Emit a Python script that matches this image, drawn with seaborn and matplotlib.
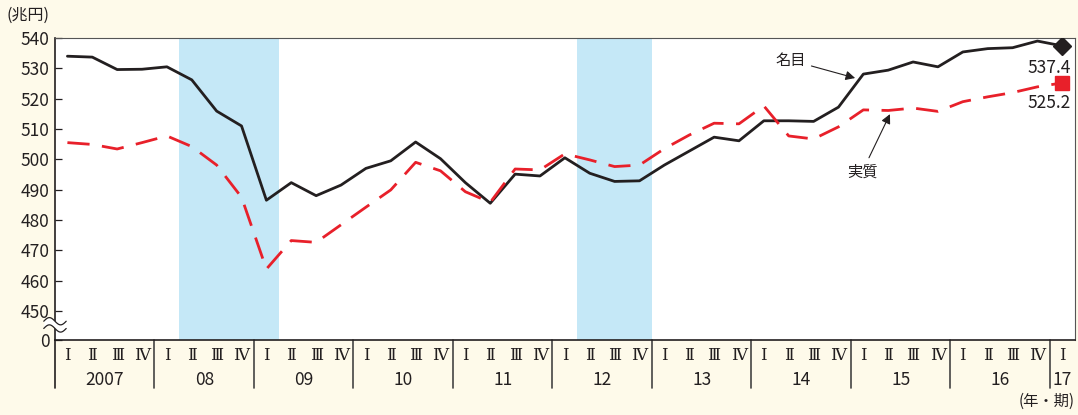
import numpy as np
import pandas as pd
import matplotlib.pyplot as plt
import seaborn as sns

sns.set_theme(style="white")
plt.rcParams["font.family"] = ["Noto Sans CJK JP", "DejaVu Sans"]

# ── データ ───────────────────────────────────────────────────────────────
years = ["2007", "08", "09", "10", "11", "12", "13", "14", "15", "16", "17"]
quarters = ["Ⅰ", "Ⅱ", "Ⅲ", "Ⅳ"]

nominal = [534.0, 533.7, 529.6, 529.7, 530.5, 526.2, 515.9, 511.0, 486.5, 492.3,
           488.0, 491.5, 497.0, 499.5, 505.7, 500.2, 492.3, 485.5, 495.1, 494.5,
           500.5, 495.4, 492.7, 492.9, 498.1, 502.7, 507.3, 506.1, 512.7, 512.7,
           512.5, 517.2, 528.1, 529.4, 532.1, 530.5, 535.4, 536.5, 536.8, 539.0,
           537.4]
real = [505.5, 504.9, 503.4, 505.5, 507.7, 504.2, 498.1, 487.5, 463.8, 473.2,
        472.6, 478.4, 484.2, 489.9, 499.0, 496.2, 489.3, 485.8, 496.8, 496.5,
        501.8, 499.8, 497.6, 498.1, 503.5, 508.0, 511.9, 511.7, 517.6, 507.7,
        506.7, 510.7, 516.3, 516.1, 516.9, 515.8, 519.0, 520.6, 522.0, 523.9,
        525.2]
recessions = [(4.5, 8.5), (20.5, 23.5)]
yticks = [450, 460, 470, 480, 490, 500, 510, 520, 530, 540]

n = len(nominal)
qlabels = [quarters[i % 4] for i in range(n)]
df = pd.DataFrame({"idx": np.arange(n), "名目": nominal, "実質": real})

# ── 描画 ─────────────────────────────────────────────────────────────────
bg = "#FEFAEA"
fig = plt.figure(figsize=(10.78, 4.15), dpi=100, facecolor=bg)
ax = fig.add_axes([0.051, 0.1807, 0.946, 0.7277])
ax.set_facecolor("white")

for a, b in recessions:
    ax.axvspan(a, b, color="#C5E8F7", lw=0, zorder=0)

sns.lineplot(data=df, x="idx", y="名目", ax=ax, color="#231F20", lw=2.0, zorder=3)
sns.lineplot(data=df, x="idx", y="実質", ax=ax, color="#E8202A", lw=2.0,
             dashes=False, zorder=3)
ax.lines[-1].set_dashes((8, 4.5))

ax.plot(n - 1, nominal[-1], marker="D", ms=9, color="#231F20", zorder=4)
ax.plot(n - 1, real[-1], marker="s", ms=10, color="#E8202A", zorder=4)

ymin = 440.4
ax.set_xlim(-0.5, n - 0.5)
ax.set_ylim(ymin, 540)
ax.set_xlabel("")
ax.set_ylabel("")

ax.set_yticks([ymin] + yticks)
ax.set_yticklabels(["0"] + [str(v) for v in yticks], fontsize=12.5, color="#231F20")
ax.tick_params(axis="y", direction="in", length=5, width=0.9, color="#231F20", pad=4, left=True)

ax.set_xticks(range(n))
ax.set_xticklabels(qlabels, fontsize=12, color="#231F20", family=["DejaVu Serif"])
ax.tick_params(axis="x", length=0, pad=5)

for s in ["left", "bottom"]:
    ax.spines[s].set_color("#231F20")
    ax.spines[s].set_linewidth(1.2)
for s in ["top", "right"]:
    ax.spines[s].set_color("#555555")
    ax.spines[s].set_linewidth(0.8)

# 年ラベルと区切り線
trans = ax.get_xaxis_transform()
for i, y in enumerate(years):
    start = i * 4 - 0.5
    end = min(start + 4, n - 0.5)
    ax.text((start + end) / 2, -0.133, y, transform=trans, ha="center", va="center",
            fontsize=12.5, color="#231F20")
    if i > 0:
        ax.plot([start, start], [0, -0.16], transform=trans, color="#444444",
                lw=1.2, clip_on=False)
ax.plot([-0.5, -0.5], [0, -0.16], transform=trans, color="#231F20", lw=1.2, clip_on=False)

# 軸の省略記号
yb = (445.4 - ymin) / (540 - ymin)
wx = np.linspace(-0.011, 0.011, 40)
wave = 0.012 * np.sin((wx + 0.011) / 0.022 * 2 * np.pi)
ax.fill_between(wx, yb - 0.012 + wave, yb + 0.012 + wave, transform=ax.transAxes,
                color="white", lw=0, clip_on=False, zorder=5)
for off in (-0.012, 0.012):
    ax.plot(wx, yb + off + wave, transform=ax.transAxes, color="#231F20", lw=0.9,
            clip_on=False, zorder=6)

# 注記
arrow = dict(arrowstyle="-|>", color="#231F20", lw=0.8, mutation_scale=14,
             shrinkA=2, shrinkB=0)
ax.annotate("名目", xy=(31.67, 526.8), xytext=(29.06, 532.7), ha="center", va="center",
            fontsize=11, color="#231F20", arrowprops=arrow)
ax.annotate("実質", xy=(33.07, 514.9), xytext=(31.95, 495.8), ha="center", va="center",
            fontsize=11, color="#231F20", arrowprops=arrow)
ax.text(40.35, 530.1, f"{nominal[-1]:.1f}", ha="right", va="center", fontsize=12.5,
        color="#231F20")
ax.text(40.35, 518.6, f"{real[-1]:.1f}", ha="right", va="center", fontsize=12.5,
        color="#231F20")

fig.text(0.006, 0.962, "(兆円)", ha="left", va="center", fontsize=11.5, color="#231F20")
fig.text(0.997, 0.033, "(年・期)", ha="right", va="center", fontsize=11, color="#231F20")

fig.savefig("out.png", dpi=100, facecolor=bg)
